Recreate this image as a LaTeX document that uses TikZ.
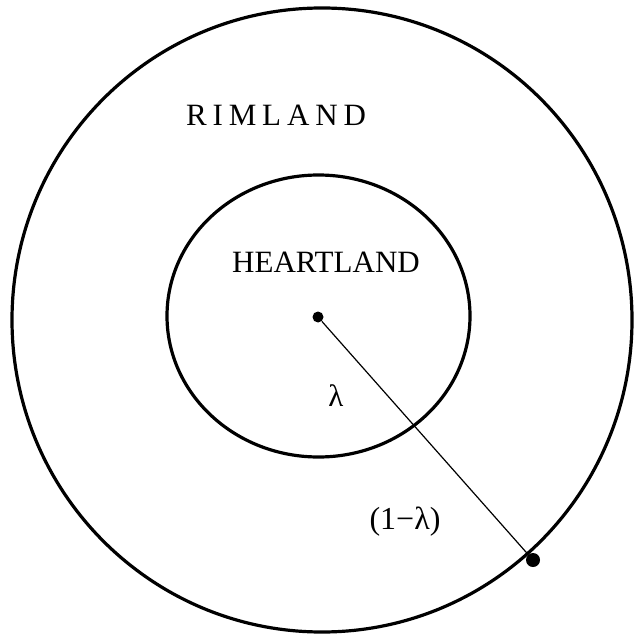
\documentclass[tikz,border=0pt]{standalone}
\usepackage{fontspec}
\setmainfont{Liberation Serif}
\usepackage{tikz}
\usetikzlibrary{positioning,calc}

\begin{document}
\begin{tikzpicture}[
  x=0.5pt, y=-0.5pt,
  font=\fontsize{15.5}{18}\selectfont,
  region/.style={draw=black, line width=1.6pt},
  spot/.style={circle, fill=black, inner sep=0pt},
  radius line/.style={draw=black, line width=0.6pt}
]
  \useasboundingbox (0,0) rectangle (634,636);
  % the two zones
  \draw[region] (322,320) ellipse [x radius=310, y radius=312];
  \draw[region] (318.5,316) ellipse [x radius=151.5, y radius=141];
  % centre and rim points
  \node[spot, minimum size=5.5pt] (ctr) at (318,317) {};
  \node[spot, minimum size=7pt] (rim) at (533,560) {};
  \draw[radius line] (ctr) -- (rim);
  % labels
  \node (rimland) at (276,115) {\addfontfeature{LetterSpace=19}RIMLAND};
  \node (heart) at (326,262) {HEARTLAND};
  \node (lam) at (336,396) {λ};
  \node[font=\fontsize{16}{19}\selectfont] (onelam) at (405,522) {(1−λ)};
\end{tikzpicture}
\end{document}
